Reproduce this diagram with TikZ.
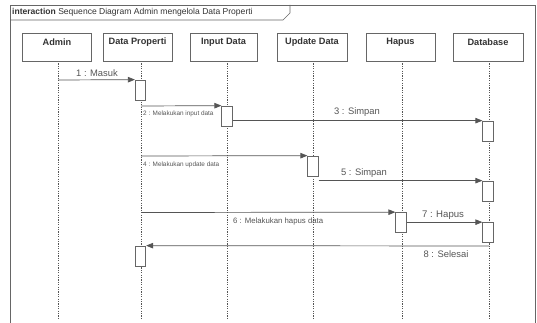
\documentclass[tikz,border=0pt]{standalone}
\usepackage{fontspec}
\setmainfont{Liberation Sans}
\usetikzlibrary{arrows.meta}
\definecolor{txt}{HTML}{333333}
\definecolor{ln}{HTML}{555555}
\definecolor{bx}{HTML}{666666}
\tikzset{
  head/.style={draw=bx, line width=0.7pt, fill=white, minimum width=69pt, minimum height=28pt,
    inner sep=0pt, anchor=north},
  headlabel/.style={text=txt, font=\fontsize{9.2}{11}\selectfont\bfseries},
  act/.style={draw=bx, line width=0.7pt, fill=white, minimum width=10.5pt, minimum height=20pt, inner sep=0pt},
  lifeline/.style={draw=ln, line width=0.6pt, dash pattern=on 1.2pt off 1.2pt},
  msg/.style={draw=ln, line width=0.7pt, -{Triangle[length=7pt,width=5.5pt]}},
  lbl/.style={text=ln, inner sep=0pt, font=\fontsize{9.4}{11}\selectfont},
  smalllbl/.style={text=ln, inner sep=0pt, anchor=west, font=\fontsize{6.4}{7.6}\selectfont},
  midlbl/.style={text=ln, inner sep=0pt, anchor=west, font=\fontsize{7.8}{9.4}\selectfont},
}
\begin{document}
\begin{tikzpicture}[x=1pt,y=-1pt]
\useasboundingbox (0,0) rectangle (537,323);
% frame
\draw[draw=bx, line width=0.8pt] (10,323) -- (10,5) -- (535,5) -- (535,323);
\draw[draw=bx, line width=0.7pt] (10,20) -- (283,20) -- (290,13) -- (290,5);
\node[anchor=west, inner sep=0pt, text=txt, font=\fontsize{8.55}{10}\selectfont] (title) at (12,12.5)
  {\textbf{interaction} Sequence Diagram Admin mengelola Data Properti};
% lifeline coordinates
\foreach \n/\x in {A/58, P/141, I/227, U/313, H/402, D/489}{
  \coordinate (\n top) at (\x,61);
  \coordinate (\n bot) at (\x,318);
}
\foreach \n in {A,P,I,U,H,D}{ \draw[lifeline] (\n top) -- (\n bot); }
% heads
\node[head] (hA) at (57,33) {};
\node[headlabel] (tA) at (57,42) {Admin};
\node[head] (hP) at (137.5,33) {};
\node[headlabel] (tP) at (137.5,42) {Data Properti};
\node[head, minimum width=67pt] (hI) at (223.5,33) {};
\node[headlabel] (tI) at (223.5,42) {Input Data};
\node[head, minimum width=70pt] (hU) at (312,33) {};
\node[headlabel] (tU) at (312,42) {Update Data};
\node[head] (hH) at (400.5,33) {};
\node[headlabel] (tH) at (400.5,42) {Hapus};
\node[head, minimum width=70pt] (hD) at (488,33) {};
\node[headlabel] (tD) at (488,42) {Database};
% activations
\node[act] (aP1) at (140.5,90) {};
\node[act] (aI) at (227,116) {};
\node[act] (aD1) at (488,131) {};
\node[act] (aU) at (313,166) {};
\node[act] (aD2) at (488,191) {};
\node[act] (aH) at (401,222.5) {};
\node[act] (aD3) at (488,232.5) {};
\node[act] (aP2) at (140.5,256) {};
% free ends on lifelines
\coordinate (s1) at (58,80);
\coordinate (s2) at (141,106);
\coordinate (s4) at (141,156);
\coordinate (s6) at (141,212.5);
\coordinate (s8) at (489,246);
% messages
\draw[msg] (s1) -- (aP1.north west);
\draw[msg] (s2) -- (aI.north west);
\draw[msg] (aI.east |- aD1.north) -- (aD1.north west);
\draw[msg] (s4) -- (aU.north west);
\draw[msg] (aU.east |- aD2.north) -- (aD2.north west);
\draw[msg] (s6) -- (aH.north west);
\draw[msg] (aH.east |- aD3.north) -- (aD3.north west);
\draw[msg] (s8) -- (aP2.north east);
% labels
\node[lbl] (l1) at (97,73) {1 : Masuk};
\node[smalllbl] (l2) at (143,113.5) {2 : Melakukan input data};
\node[lbl] (l3) at (357,112.5) {3 : Simpan};
\node[smalllbl] (l4) at (143,165) {4 : Melakukan update data};
\node[lbl] (l5) at (364,173) {5 : Simpan};
\node[midlbl] (l6) at (233,221) {6 : Melakukan hapus data};
\node[lbl, font=\fontsize{9.6}{11}\selectfont] (l7) at (443,215) {7 : Hapus};
\node[lbl] (l8) at (446,254.5) {8 : Selesai};
\end{tikzpicture}
\end{document}
